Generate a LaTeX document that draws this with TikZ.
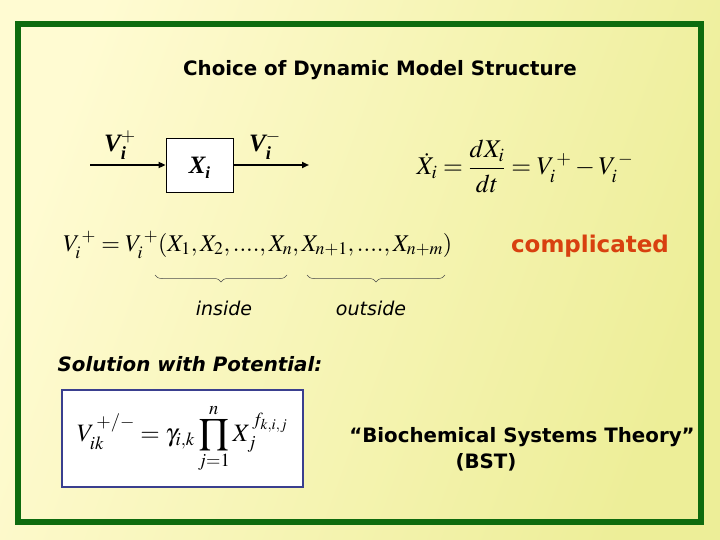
\documentclass[tikz,border=0pt]{standalone}
\usepackage{amsmath}
\usepackage{mathptmx}
\usepackage{fontspec}
\setmainfont{DejaVu Sans}
\newfontfamily\serifbi{Liberation Serif}
\usetikzlibrary{arrows.meta,positioning,decorations.pathreplacing}
\definecolor{paperlight}{HTML}{FFFBD2}
\definecolor{paperdeep}{HTML}{EDEE98}
\definecolor{framegreen}{HTML}{0E6B0E}
\definecolor{warmred}{HTML}{D8400F}
\definecolor{boxblue}{HTML}{3A3F8F}
\tikzset{
  heading/.style  = {inner sep=0pt, font=\fontsize{19.8}{23}\selectfont\bfseries},
  note/.style     = {inner sep=0pt, font=\fontsize{19}{22}\selectfont\itshape},
  mathy/.style    = {inner sep=0pt, font=\fontsize{24}{28}\selectfont},
  flowlabel/.style= {inner sep=0pt, font=\fontsize{25}{28}\selectfont\serifbi\bfseries\itshape},
  pool/.style     = {draw=black, fill=white, line width=0.8pt, minimum width=67pt,
                     minimum height=54pt, inner sep=0pt},
  flow/.style     = {-{Triangle[length=7pt,width=6pt]}, line width=2.6pt},
  underbrace/.style = {decorate, decoration={brace, mirror, amplitude=7pt},
                     draw=black!70, line width=0.5pt},
}
\begin{document}
\begin{tikzpicture}[x=1pt,y=-1pt]
  % backdrop and frame
  \shade[shading=axis, left color=paperlight, right color=paperdeep, shading angle=70]
    (0,0) rectangle (720,540);
  \useasboundingbox (0,0) rectangle (720,540);
  \draw[framegreen, line width=6pt] (18,24) rectangle (701,522);

  \node[heading] (title) at (380,70) {Choice of Dynamic Model Structure};

  % one pool with in- and outflow
  \node[pool] (xi) at (199.5,165) {};
  \node[flowlabel] at (199.5,168) {X\raisebox{-5pt}{\fontsize{17}{17}\selectfont i}};
  \coordinate (feed) at (90,165);
  \coordinate (drain) at (309,165);
  \draw[flow] (feed) -- (xi.west);
  \draw[flow] (xi.east) -- (drain);
  \node[flowlabel] (vin) at (120,145) {V$^{+}_{\text{i}}$};
  \node[flowlabel] (vout) at (265,145) {V$^{-}_{\text{i}}$};

  \node[mathy, font=\fontsize{25.5}{30}\selectfont] (balance) at (525,166)
    {$\dot X_i = \dfrac{dX_i}{dt} = V_i^{\,+} - V_i^{\,-}$};

  % dependence of the influx
  \node[mathy, anchor=west] (influx) at (63,245)
    {$V_i^{\,+} = V_i^{\,+}(X_1, X_2 ,...., X_n, X_{n+1} ,...., X_{n+m})$};
  \node[heading, text=warmred, font=\fontsize{23}{26}\selectfont\bfseries] (hard)
    at (590,246) {complicated};
  \coordinate (inA) at (155,275);
  \coordinate (inB) at (287,275);
  \coordinate (outA) at (307,275);
  \coordinate (outB) at (445,275);
  \draw[underbrace] (inA) -- (inB);
  \draw[underbrace] (outA) -- (outB);
  \node[note] (inside) at (224,308) {inside};
  \node[note] (outside) at (371,308) {outside};

  % power-law form
  \node[heading, font=\fontsize{19.8}{23}\selectfont\bfseries\itshape] (sol)
    at (190,364) {Solution with Potential:};
  \node[draw=boxblue, line width=1.6pt, fill=white, minimum width=241pt,
        minimum height=97pt, inner sep=0pt, font=\fontsize{25}{30}\selectfont] (law)
    at (182.5,438.5)
    {$\displaystyle V_{ik}^{\,+/-} = \gamma_{i,k}\prod_{j=1}^{n} X_j^{\,f_{k,i,j}}$};
  \node[heading] (bst) at (522,437) {``Biochemical Systems Theory''};
  \node[heading] (bstshort) at (486,462) {(BST)};
\end{tikzpicture}
\end{document}
